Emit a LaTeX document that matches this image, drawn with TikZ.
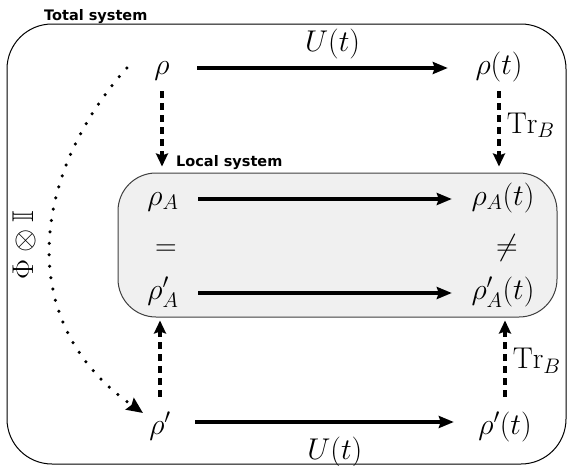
\RequirePackage{fix-cm}
\documentclass[tikz,border=0pt]{standalone}
\usepackage{amsmath}
\usepackage{amssymb}
\usepackage{fontspec}
\newfontfamily\boxfont{DejaVu Sans}
\usetikzlibrary{arrows.meta}

\begin{document}
\begin{tikzpicture}[x=1pt,y=-1pt,
    st/.style={inner sep=0pt, text height=20pt, text depth=8pt, font=\fontsize{30}{36}\selectfont},
    lft/.style={st, minimum width=70pt},
    rgt/.style={st, minimum width=102pt},
    low/.style={text height=26pt, text depth=2pt},
    evol/.style={line width=3.5pt, -{Stealth[length=15pt,width=12pt,inset=2pt]}},
    trace/.style={line width=3.5pt, dash pattern=on 7pt off 5pt, -{Stealth[length=13pt,width=12pt,inset=2pt]}},
    phimap/.style={line width=3.5pt, line cap=round, dash pattern=on 0pt off 11.5pt, -{Stealth[length=16pt,width=14pt,inset=2pt]}},
    syslab/.style={font=\boxfont\bfseries\fontsize{14.5}{17}\selectfont, anchor=base west, inner sep=0pt}]
      \useasboundingbox (0,0) rectangle (568,466);
      % the two systems
      \node[draw, line width=1pt, rounded corners=45pt, minimum width=559pt, minimum height=440pt] (total) at (286.5,244) {};
      \node[draw=black!75, fill=black!6, line width=1pt, rounded corners=38pt, minimum width=439pt, minimum height=144pt] (local) at (337.5,245) {};
      \node[syslab] (totallab) at (44,20) {Total system};
      \node[syslab] (locallab) at (176,166) {Local system};
      % states
      \node[lft] (rho) at (162,68) {$\rho$};
      \node[rgt] (rhot) at (499,68) {$\rho(t)$};
      \node[lft] (rhoA) at (163,199) {$\rho_A$};
      \node[rgt] (rhoAt) at (503,199) {$\rho_A(t)$};
      \node[st] (eq) at (166,249) {$=$};
      \node[st] (neq) at (507,249) {$\neq$};
      \node[lft] (rhoAp) at (163,293) {$\rho'_A$};
      \node[rgt] (rhoApt) at (503,293) {$\rho'_A(t)$};
      \node[lft, low] (rhop) at (160,422) {$\rho'$};
      \node[rgt, low] (rhopt) at (505,422) {$\rho'(t)$};
      % evolution
      \draw[evol] (rho) -- (rhot) node[st, pos=0.54, above=7pt] (Utop) {$U(t)$};
      \draw[evol] (rhoA) -- (rhoAt);
      \draw[evol] (rhoAp) -- (rhoApt);
      \draw[evol] (rhop) -- (rhopt) node[st, pos=0.54, below=16pt] (Ubot) {$U(t)$};
      % partial traces
      \draw[trace, shorten <=9pt, shorten >=6pt] (rho) -- (rho |- local.north);
      \draw[trace, shorten <=9pt, shorten >=6pt] (rhot) -- (rhot |- local.north) node[st, midway, right=6pt] (trtop) {$\mathrm{Tr}_B$};
      \draw[trace, shorten <=11pt, shorten >=3pt] (rhop) -- (rhop |- local.south);
      \draw[trace, shorten <=11pt, shorten >=3pt] (rhopt) -- (rhopt |- local.south) node[st, midway, right=6pt] (trbot) {$\mathrm{Tr}_B$};
      % the map on the total system
      \coordinate (phiend) at (143,413);
      \draw[phimap] (rho.west) .. controls (35,170) and (10,320) .. (phiend);
      \node[st, rotate=90] (philab) at (27,245) {$\Phi\otimes\mathbb{I}$};
\end{tikzpicture}
\end{document}
